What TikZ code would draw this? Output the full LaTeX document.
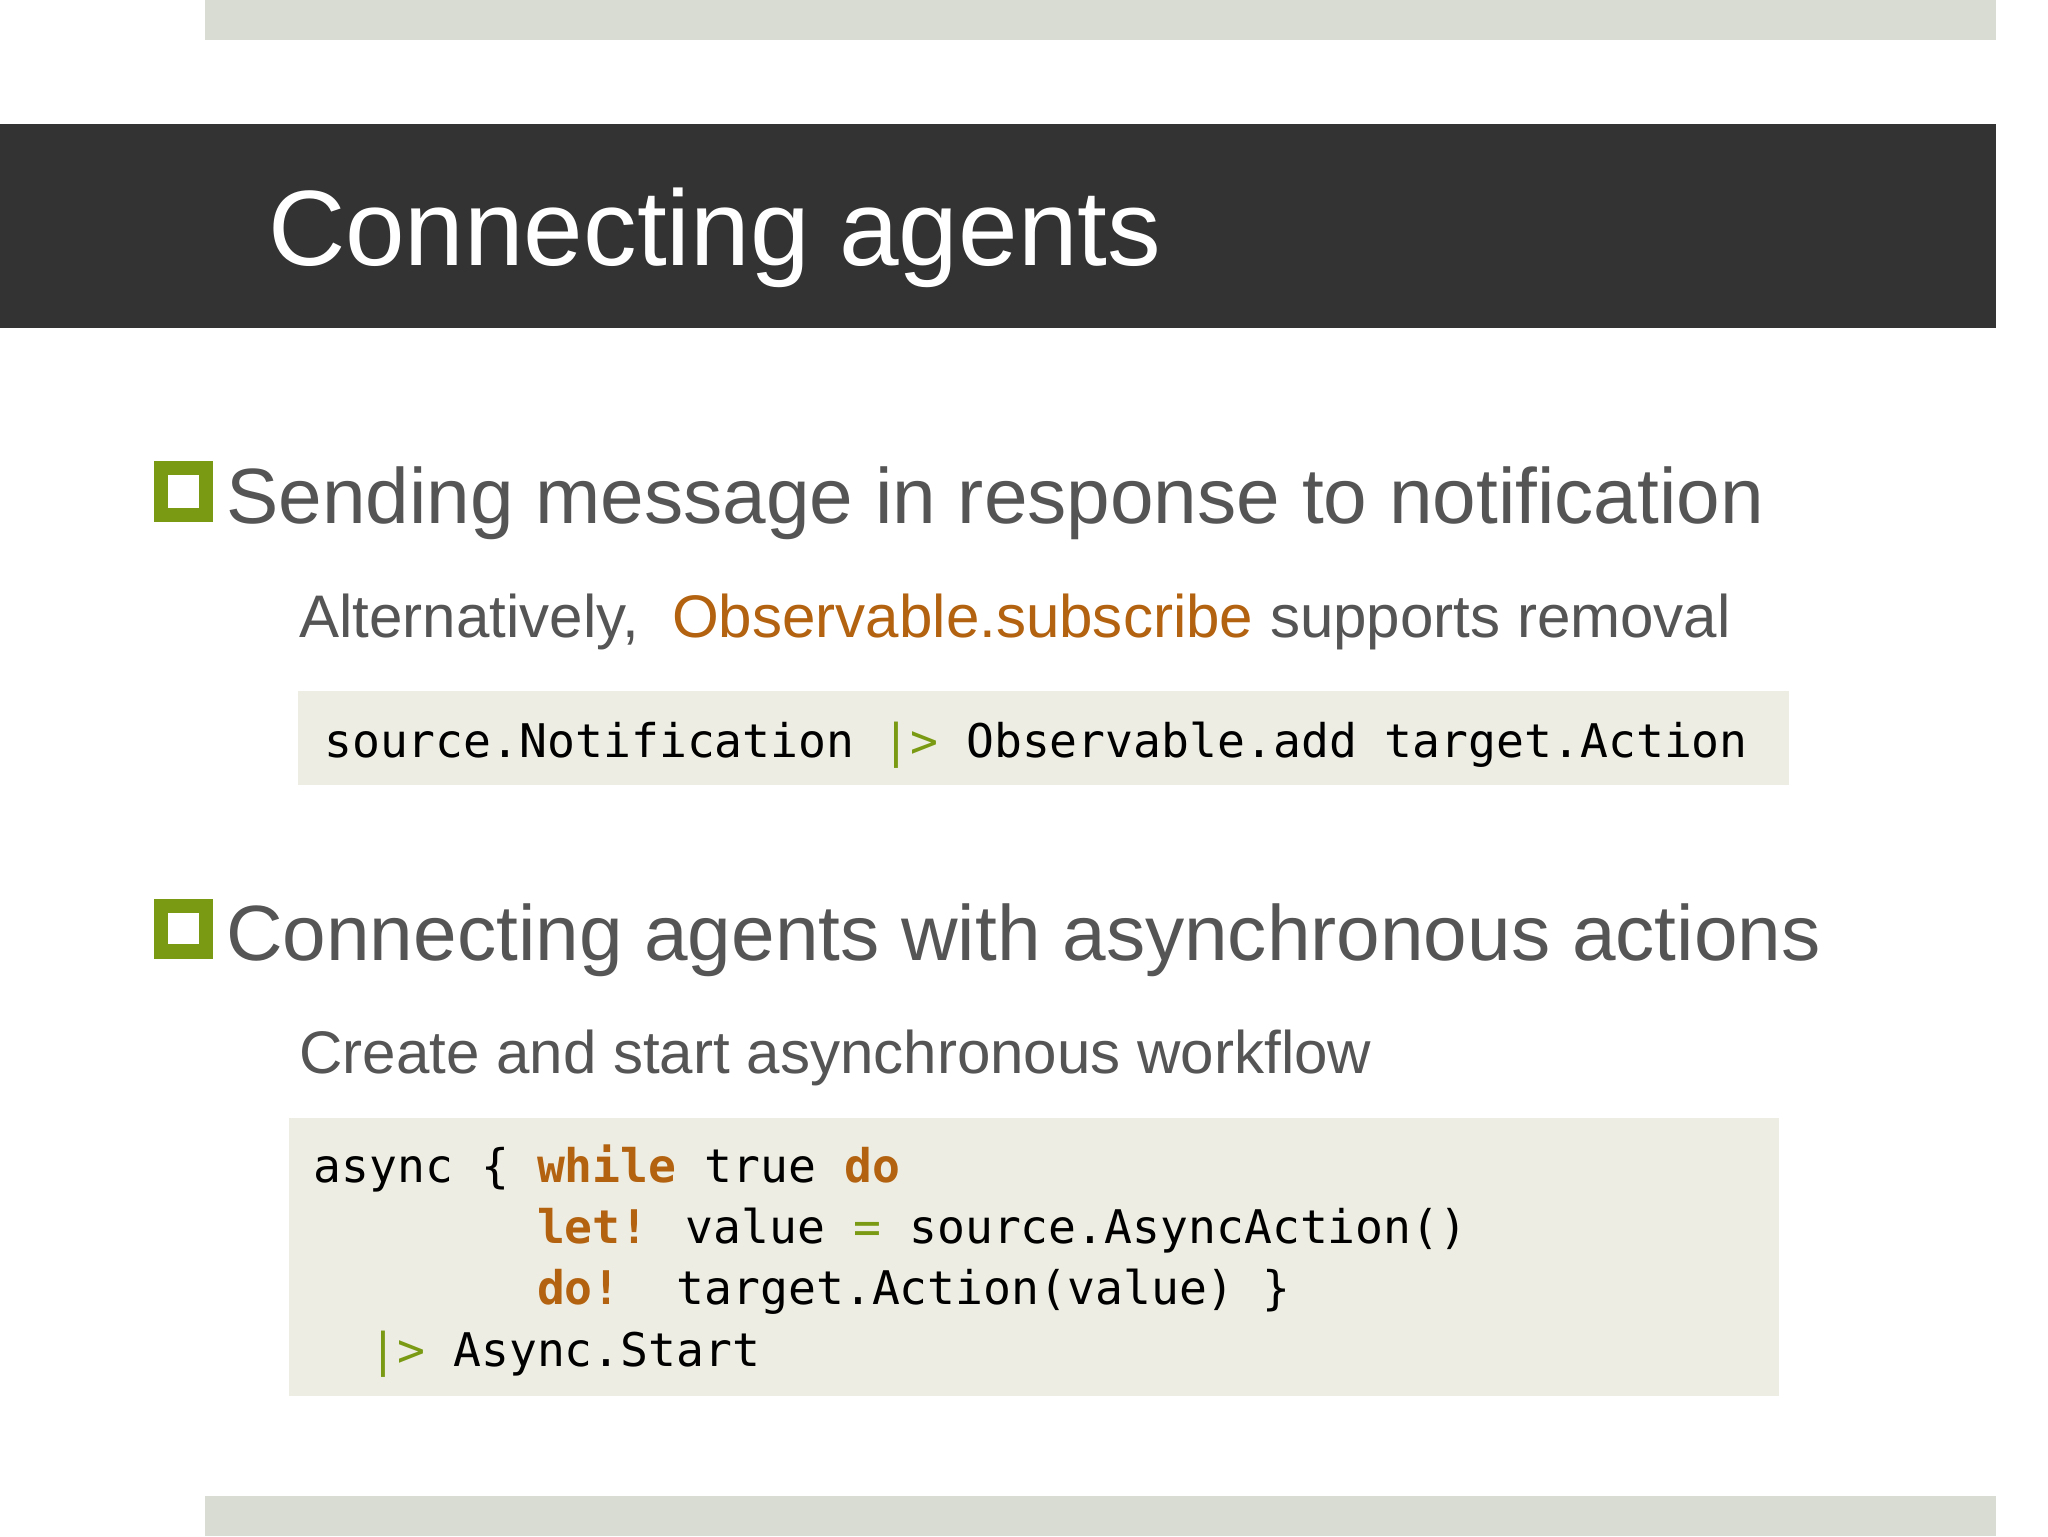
\documentclass[tikz,border=0pt]{standalone}
\usepackage{fontspec}
\setmainfont{Liberation Sans}
\newfontfamily\codefont{DejaVu Sans Mono}
\definecolor{barc}{HTML}{D9DCD3}
\definecolor{darkc}{HTML}{333333}
\definecolor{txt}{HTML}{555555}
\definecolor{orng}{HTML}{B3620F}
\definecolor{grn}{HTML}{7A9A13}
\definecolor{codebg}{HTML}{EDEDE3}
\tikzset{
  txtnode/.style={anchor=base west, inner sep=0pt, text=txt},
  codenode/.style={anchor=base west, inner sep=0pt, text=black, font=\codefont\fontsize{35.5}{47}\selectfont},
  bulletbox/.style={fill=grn, draw=none},
}
\newcommand{\kw}[1]{\textcolor{orng}{\bfseries #1}}
\newcommand{\pipeop}{\textcolor{grn}{|>}}
\begin{document}
\begin{tikzpicture}[x=1pt,y=-1pt]
\useasboundingbox (0,0) rectangle (1568,1176);
\fill[white] (0,0) rectangle (1568,1176);
\fill[barc] (157,0) rectangle (1528,31);
\fill[barc] (157,1145) rectangle (1528,1176);
\fill[darkc] (0,95) rectangle (1528,251);
\node[anchor=base west, inner sep=0pt, text=white, font=\fontsize{82}{90}\selectfont] (title) at (205,203) {Connecting agents};
% bullet 1
\fill[bulletbox] (118,353) rectangle (163,400);
\fill[white] (129,364) rectangle (152,389);
\node[txtnode, font=\fontsize{60}{70}\selectfont] (b1) at (173,401) {Sending message in response to notification};
\node[txtnode, font=\fontsize{46}{55}\selectfont] (s1) at (229,488) {Alternatively,\ \ \textcolor{orng}{Observable.subscribe} supports removal};
\fill[codebg] (228,529) rectangle (1370,601);
\node[codenode] (c1) at (248,580) {source.Notification \pipeop{} Observable.add target.Action};
% bullet 2
\fill[bulletbox] (118,688) rectangle (163,734);
\fill[white] (129,699) rectangle (152,723);
\node[txtnode, font=\fontsize{60}{70}\selectfont] (b2) at (173,735) {Connecting agents with asynchronous actions};
\node[txtnode, font=\fontsize{46}{55}\selectfont] (s2) at (229,822) {Create and start asynchronous workflow};
\fill[codebg] (221,856) rectangle (1362,1069);
\node[codenode] (l1) at (240,905) {async \{ \kw{while} true \kw{do}};
\node[codenode] (l2) at (240,952) {\phantom{async \{ }\kw{let!} value \textcolor{grn}{=} source.AsyncAction()};
\node[codenode] (l3) at (240,999) {\phantom{async \{ }\kw{do!}\ \ target.Action(value) \}};
\node[codenode] (l4) at (240,1046) {\phantom{as}\pipeop{} Async.Start};
\end{tikzpicture}
\end{document}
